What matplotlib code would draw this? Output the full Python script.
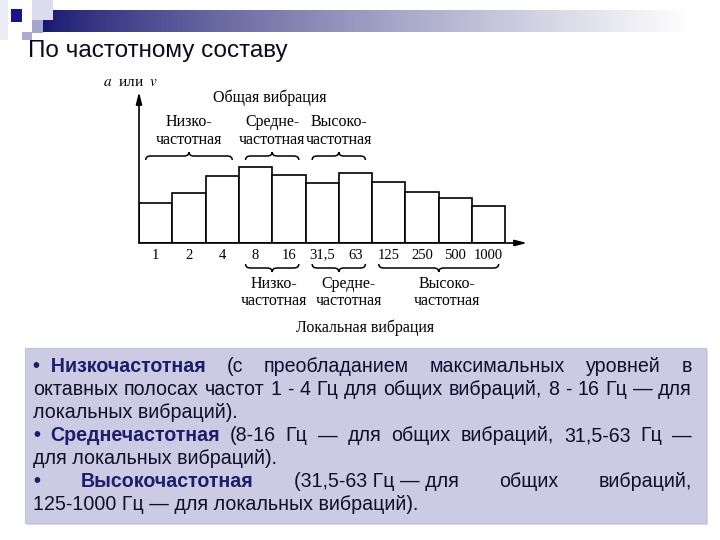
import numpy as np
import matplotlib
matplotlib.use('Agg')
import matplotlib.pyplot as plt
from matplotlib.patches import Rectangle, PathPatch
from matplotlib.path import Path

# octave band centre frequencies, Hz
freq_labels = ['1', '2', '4', '8', '16', '31,5', '63', '125', '250', '500', '1000']
# relative vibration level (a or v) in each band
levels = [40, 50, 67, 76, 68, 60, 70, 61, 51, 45, 37]

# (label, first band, last band)
general_groups = [('Низко-\nчастотная', 0, 2),
                  ('Средне-\nчастотная', 3, 4),
                  ('Высоко-\nчастотная', 5, 6)]
local_groups = [('Низко-\nчастотная', 3, 4),
                ('Средне-\nчастотная', 5, 6),
                ('Высоко-\nчастотная', 7, 10)]

title = 'По частотному составу'

# text box: (tokens, justified?) ; token = (text, bold)
box_lines = [
    ([('•  Низкочастотная', True), ('(с', False), ('преобладанием', False),
      ('максимальных', False), ('уровней', False), ('в', False)], True),
    ([(w, False) for w in 'октавных полосах частот 1 - 4 Гц для общих вибраций, 8 - 16 Гц — для'.split()], True),
    ([('локальных вибраций).', False)], False),
    ([('•', True), ('Среднечастотная', True)] +
     [(w, False) for w in '(8-16 Гц — для общих вибраций, 31,5-63 Гц —'.split()], True),
    ([('для локальных вибраций).', False)], False),
    ([('•', True), ('Высокочастотная', True), ('(31,5-63 Гц — для', False),
      ('общих', False), ('вибраций,', False)], True),
    ([('125-1000 Гц — для локальных вибраций).', False)], False),
]

plt.rcParams['font.family'] = ['Liberation Serif', 'DejaVu Serif']
plt.rcParams['mathtext.fontset'] = 'stix'
SANS = ['Liberation Sans', 'DejaVu Sans']

fig = plt.figure(figsize=(7.2, 5.4), dpi=100)

# ---- slide background: pixel coordinates ----
ov = fig.add_axes([0, 0, 1, 1])
ov.axis('off')

t = np.linspace(0, 1, 400) ** 0.8
c0 = np.array([0.09, 0.09, 0.44])
grad = c0 + (1 - c0) * t[:, None]
ov.imshow(grad[None, :, :], extent=(43, 690, 32, 10), aspect='auto', origin='upper')

for (x, y, w, h, c) in [(0, 0, 8, 40, '#ececf4'), (32, 0, 21, 20, '#dcdcee'),
                        (32, 20, 11, 13, '#a6a6cf'), (22, 32, 10, 8, '#aaaad2'),
                        (11, 9, 11, 13, '#16168c')]:
    ov.add_patch(Rectangle((x, y), w, h, facecolor=c, edgecolor='none'))

ov.add_patch(Rectangle((27, 350), 681, 175, facecolor='#dadada', edgecolor='none'))
ov.add_patch(Rectangle((25, 348), 681, 175, facecolor='#cbcbe4', edgecolor='#c2c2de', lw=0.8))

ov.set_xlim(0, 720)
ov.set_ylim(540, 0)

renderer = fig.canvas.get_renderer()

tt = ov.text(28, 51, title, fontsize=16, family=SANS, va='center', ha='left', color='#0a0a22')
tw = tt.get_window_extent(renderer).width
tt.set_fontsize(16 * 260 / tw)

# fit the box font so the longest full line fills the box width
left, right = 33, 692
probe = ov.text(0, 0, ' '.join(w for w, _ in box_lines[1][0]), fontsize=12, family=SANS)
fs = 12 * 652 / probe.get_window_extent(renderer).width
probe.remove()

for i, (tokens, justify) in enumerate(box_lines):
    y = 366.7 + i * 23.05
    arts = []
    for txt, bold in tokens:
        arts.append(ov.text(0, y, txt, fontsize=fs, family=SANS,
                            fontweight='bold' if bold else 'normal',
                            color='#1d1d6b' if bold else '#10102e',
                            va='center', ha='left'))
    widths = [a.get_window_extent(renderer).width for a in arts]
    if justify and len(arts) > 1:
        gap = (right - left - sum(widths)) / (len(arts) - 1)
    else:
        gap = fs * 100 / 72 * 0.278
    x = left
    for a, w in zip(arts, widths):
        a.set_x(x)
        x += w + gap

# ---- chart ----
ax = fig.add_axes([139 / 720, (540 - 243) / 540, (527 - 139) / 720, (243 - 92) / 540])
xmax = 388 / 33.3
ax.set_xlim(0, xmax)
ax.set_ylim(0, 151)
ax.patch.set_alpha(0)
for s in ax.spines.values():
    s.set_visible(False)
ax.set_yticks([])

x = np.arange(len(levels))
ax.bar(x, levels, width=1, align='edge', facecolor='white', edgecolor='black', linewidth=1.2)
ax.set_xticks(x + 0.5, freq_labels)
ax.tick_params(axis='x', length=0, pad=4, labelsize=10.5)

arrow = dict(arrowstyle='-|>,head_length=0.7,head_width=0.18', lw=1.2, color='black',
             shrinkA=0, shrinkB=0)
ax.annotate('', xy=(0, 151), xytext=(0, 0), arrowprops=arrow, annotation_clip=False)
ax.annotate('', xy=(xmax, 0), xytext=(0, 0), arrowprops=arrow, annotation_clip=False)

ax.text(-1.08, 160, r'$a$  или  $v$', fontsize=11, ha='left', va='center')


def brace(ax, x0, x1, y, h, r=0.15):
    xm = (x0 + x1) / 2
    verts = [(x0, y - h), (x0, y), (x0 + r, y), (xm - r, y), (xm, y), (xm, y + h),
             (xm, y), (xm + r, y), (x1 - r, y), (x1, y), (x1, y - h)]
    codes = [Path.MOVETO, Path.CURVE3, Path.CURVE3, Path.LINETO, Path.CURVE3, Path.CURVE3,
             Path.CURVE3, Path.CURVE3, Path.LINETO, Path.CURVE3, Path.CURVE3]
    ax.add_patch(PathPatch(Path(verts, codes), fill=False, lw=1.1, clip_on=False))


ax.text(3.93, 145, 'Общая вибрация', fontsize=11.5, ha='center', va='center')
for label, i0, i1 in general_groups:
    x0, x1 = i0 + 0.2, i1 + 0.8
    brace(ax, x0, x1, 87, 4)
    ax.text((x0 + x1) / 2, 112, label, fontsize=11.5, ha='center', va='center', linespacing=1.12)

label_shift = [0.05, 0.3, 0.25]
for (label, i0, i1), dx in zip(local_groups, label_shift):
    x0, x1 = i0 + 0.2, i1 + 0.8
    brace(ax, x0, x1, -25, -4)
    ax.text((x0 + x1) / 2 + dx, -49.5, label, fontsize=11.5, ha='center', va='center',
            linespacing=1.12, clip_on=False)
ax.text(6.8, -85, 'Локальная вибрация', fontsize=11.5, ha='center', va='center', clip_on=False)

fig.savefig('out.png', dpi=100)
